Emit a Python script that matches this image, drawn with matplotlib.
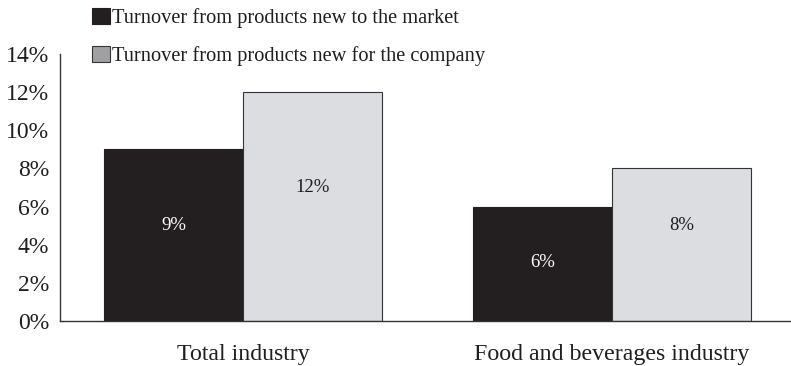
import matplotlib
matplotlib.use("Agg")
import matplotlib.pyplot as plt
from matplotlib.patches import Patch
import numpy as np

plt.rcParams['font.family'] = ['Liberation Serif', 'DejaVu Serif']

categories = ["Total industry", "Food and beverages industry"]
series_names = ["Turnover from products new to the market",
                "Turnover from products new for the company"]
market_new = [9, 6]
company_new = [12, 8]
# vertical placement of the in-bar value labels (in % units)
label_y_market = [5.0, 3.05]
label_y_company = [7.0, 5.0]
yticks = [0, 2, 4, 6, 8, 10, 12, 14]

dark = "#231f20"
light = "#dcdde0"
legend_light = "#a0a0a3"
text_col = "#1e1e1e"

W, H = 791, 366
fig = plt.figure(figsize=(W / 100, H / 100), dpi=100)
ax = fig.add_axes([60 / W, (H - 321) / H, (W - 60) / W, (321 - 54) / H])

x = np.arange(len(categories))
w = 0.377
ax.bar(x - w / 2, market_new, w, color=dark, edgecolor=dark, linewidth=0.8)
ax.bar(x + w / 2, company_new, w, color=light, edgecolor="#333333", linewidth=0.8)

for xi, v, ly in zip(x, market_new, label_y_market):
    ax.text(xi - w / 2, ly, f"{v}%", ha="center", va="center", color="white", fontsize=13.5)
for xi, v, ly in zip(x, company_new, label_y_company):
    ax.text(xi + w / 2, ly, f"{v}%", ha="center", va="center", color=text_col, fontsize=13.5)

ax.set_xlim(-0.496, 1.485)
ax.set_ylim(0, 14)
ax.set_yticks(yticks)
ax.set_yticklabels([f"{t}%" for t in yticks])
ax.set_xticks(x)
ax.set_xticklabels(categories)
ax.tick_params(axis="y", length=0, pad=8, labelsize=17, colors=text_col)
ax.tick_params(axis="x", length=0, pad=16.5, labelsize=17.2, colors=text_col)
for s in ["top", "right"]:
    ax.spines[s].set_visible(False)
for s in ["left", "bottom"]:
    ax.spines[s].set_color("#333333")
    ax.spines[s].set_linewidth(1.0)

handles = [Patch(facecolor=dark, edgecolor=dark, linewidth=0.8),
           Patch(facecolor=legend_light, edgecolor="#333333", linewidth=0.8)]
fig.legend(handles, series_names, loc="upper left",
           bbox_to_anchor=(82 / W, 1 + 2 / H), frameon=False,
           fontsize=14.7, handlelength=0.85, handleheight=0.85,
           handletextpad=0.1, labelspacing=0.85, borderpad=0.0,
           labelcolor=text_col)

fig.savefig("out.png", dpi=100)
